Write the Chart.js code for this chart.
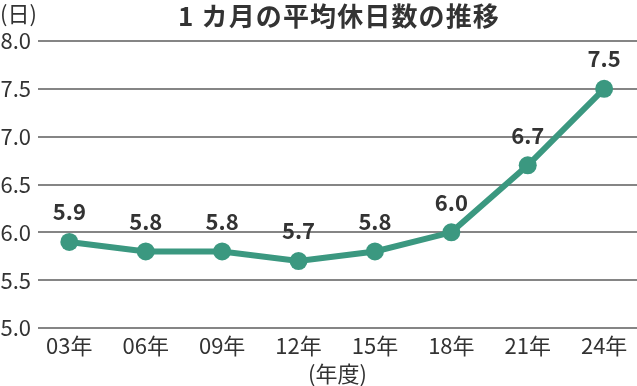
<!DOCTYPE html>
<html>
<head>
<meta charset="utf-8">
<script src="https://cdn.jsdelivr.net/npm/chart.js@4"></script>
<style>
  html, body { margin: 0; padding: 0; background: #fff; overflow: hidden; }
</style>
</head>
<body>
<canvas id="holiday-chart" width="637" height="386"></canvas>
<script>
const years = ["03年", "06年", "09年", "12年", "15年", "18年", "21年", "24年"];
const holidays = [5.9, 5.8, 5.8, 5.7, 5.8, 6.0, 6.7, 7.5];
const yTicks = [5.0, 5.5, 6.0, 6.5, 7.0, 7.5, 8.0];

const FONT = "'Noto Sans CJK JP', 'Noto Sans', sans-serif";
const green = "#3b9880";
const textColor = "#333333";

// title, unit, axis caption and value labels
const extras = {
  id: "extras",
  afterDatasetsDraw(chart) {
    const { ctx, chartArea } = chart;
    ctx.save();
    ctx.fillStyle = textColor;
    ctx.textBaseline = "middle";

    // title stretched to the reference width
    const title = "1 カ月の平均休日数の推移";
    ctx.font = "bold 26px " + FONT;
    ctx.textAlign = "left";
    const w = ctx.measureText(title).width;
    const spacing = Math.max(0, (322 - w) / title.length);
    ctx.letterSpacing = spacing + "px";
    ctx.fillText(title, 178, 16);
    ctx.letterSpacing = "0px";

    ctx.font = "22px " + FONT;
    ctx.fillText("(日)", 0, 14);

    ctx.textAlign = "center";
    ctx.fillText("(年度)", (chartArea.left + chartArea.right) / 2, 374);

    ctx.font = "bold 22px " + FONT;
    const meta = chart.getDatasetMeta(0);
    meta.data.forEach((pt, i) => {
      ctx.fillText(holidays[i].toFixed(1), pt.x, pt.y - 30);
    });
    ctx.restore();
  }
};

new Chart(document.getElementById("holiday-chart"), {
  type: "line",
  data: {
    datasets: [{
      data: holidays.map((v, i) => ({ x: i, y: v })),
      borderColor: green,
      backgroundColor: green,
      borderWidth: 6,
      pointRadius: 9,
      pointHoverRadius: 9,
      pointBackgroundColor: green,
      pointBorderWidth: 0,
      tension: 0
    }]
  },
  options: {
    responsive: false,
    animation: false,
    layout: { autoPadding: false, padding: { top: 41, right: 0, left: 0, bottom: 0 } },
    plugins: { legend: { display: false }, tooltip: { enabled: false } },
    scales: {
      x: {
        type: "linear",
        min: -0.41,
        max: 7.43,
        afterBuildTicks(scale) {
          scale.ticks = years.map((_, i) => ({ value: i }));
        },
        afterFit(scale) {
          scale.paddingLeft = 0;
          scale.paddingRight = 0;
          scale.height = 58;
        },
        ticks: {
          callback: (v) => years[v],
          color: textColor,
          font: { family: FONT, size: 22 },
          padding: -4,
          maxRotation: 0,
          autoSkip: false
        },
        grid: { display: false },
        border: { display: false }
      },
      y: {
        min: 5,
        max: 8,
        afterBuildTicks(scale) {
          scale.ticks = yTicks.map(v => ({ value: v }));
        },
        afterFit(scale) { scale.width = 38; },
        ticks: {
          callback: (v) => v.toFixed(1),
          color: textColor,
          font: { family: FONT, size: 22 },
          padding: 7
        },
        grid: { color: "#858585", lineWidth: 2, drawTicks: false },
        border: { display: false }
      }
    }
  },
  plugins: [extras]
});
</script>
</body>
</html>
